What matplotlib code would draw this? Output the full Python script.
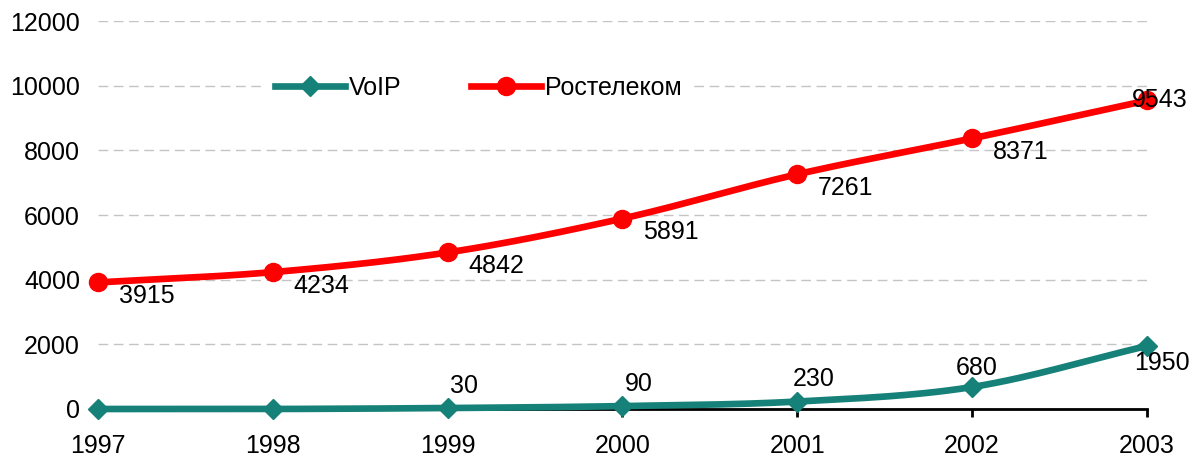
import matplotlib.pyplot as plt
import numpy as np

plt.rcParams['font.family'] = ['Liberation Sans', 'DejaVu Sans']

years = [1997, 1998, 1999, 2000, 2001, 2002, 2003]
voip = [0, 0, 30, 90, 230, 680, 1950]
rostelecom = [3915, 4234, 4842, 5891, 7261, 8371, 9543]
voip_labels = ['', '', '30', '90', '230', '680', '1950']
rt_labels = ['3915', '4234', '4842', '5891', '7261', '8371', '9543']
yticks = [0, 2000, 4000, 6000, 8000, 10000, 12000]

TEAL = '#168178'
RED = '#ff0000'
FS = 18


def smooth(x, y, steps=30):
    # сглаживание в стиле Excel (Catmull-Rom)
    x = np.asarray(x, float)
    y = np.asarray(y, float)
    px = np.concatenate([[2 * x[0] - x[1]], x, [2 * x[-1] - x[-2]]])
    py = np.concatenate([[2 * y[0] - y[1]], y, [2 * y[-1] - y[-2]]])
    xs, ys = [], []
    t = np.linspace(0, 1, steps)
    for i in range(1, len(px) - 2):
        for arr, out in ((px, xs), (py, ys)):
            p0, p1, p2, p3 = arr[i - 1], arr[i], arr[i + 1], arr[i + 2]
            out.extend(0.5 * ((2 * p1) + (-p0 + p2) * t
                              + (2 * p0 - 5 * p1 + 4 * p2 - p3) * t ** 2
                              + (-p0 + 3 * p1 - 3 * p2 + p3) * t ** 3))
    return xs, ys


fig = plt.figure(figsize=(11.91, 4.58), dpi=100)
ax = fig.add_axes([0.0823, 0.107, 0.8807, 0.847])

for vals, color, marker, ms, name in [
        (voip, TEAL, 'D', 10, 'VoIP'),
        (rostelecom, RED, 'o', 13, 'Ростелеком')]:
    sx, sy = smooth(years, vals)
    ax.plot(sx, sy, color=color, lw=4.8, clip_on=False, zorder=3)
    ax.plot(years, vals, ls='none', marker=marker, ms=ms, color=color,
            clip_on=False, zorder=4)
    ax.plot([], [], color=color, lw=4.8, marker=marker, ms=ms, label=name)

for i, (x, v) in enumerate(zip(years, rostelecom)):
    if i == len(years) - 1:
        ax.annotate(rt_labels[i], (x, v), xytext=(9, 0), textcoords='offset points',
                    ha='center', va='center', fontsize=FS, zorder=5)
    else:
        ax.annotate(rt_labels[i], (x, v), xytext=(15, -10), textcoords='offset points',
                    ha='left', va='center', fontsize=FS, zorder=5)

for i, (x, v) in enumerate(zip(years, voip)):
    if not voip_labels[i]:
        continue
    if i == len(years) - 1:
        off, ha = (-9, -12), 'left'
    elif i == len(years) - 2:
        off, ha = (3, 14), 'center'
    else:
        off, ha = (12, 16), 'center'
    ax.annotate(voip_labels[i], (x, v), xytext=off, textcoords='offset points',
                ha=ha, va='center', fontsize=FS, zorder=5)

ax.set_xlim(years[0], years[-1])
ax.set_ylim(0, 12000)
ax.set_xticks(years)
ax.set_yticks(yticks)
ax.tick_params(axis='x', direction='out', length=6, width=2, labelsize=FS, pad=12)
ax.tick_params(axis='y', length=0, labelsize=FS, pad=13)
ax.yaxis.grid(True, ls=(0, (7, 4)), color='#c4c4c4', lw=1)
ax.set_axisbelow(True)
for s in ('top', 'right', 'left'):
    ax.spines[s].set_visible(False)
ax.spines['bottom'].set_linewidth(2)

leg = ax.legend(loc='center left', bbox_to_anchor=(0.159, 0.827), ncol=2, frameon=True,
                fontsize=FS, handlelength=2.8, columnspacing=2.8, handletextpad=0.15,
                borderaxespad=0, edgecolor='none', facecolor='white', framealpha=1)

fig.savefig('out.png', dpi=100)
